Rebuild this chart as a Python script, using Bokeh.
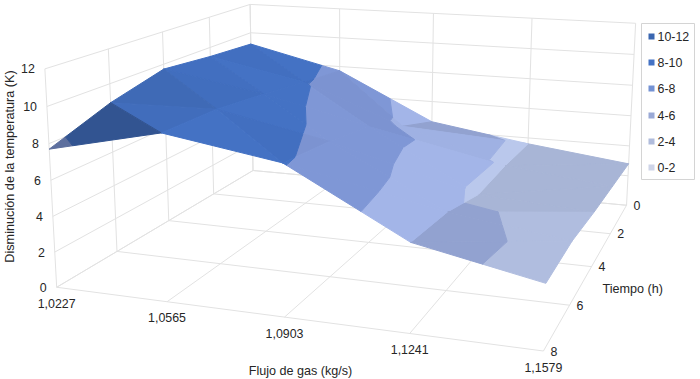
import numpy as np
from bokeh.plotting import figure
from bokeh.embed import file_html
from bokeh.resources import INLINE
from bokeh.models import Range1d
from bokeh.core.properties import value

flow_labels = ["1,0227", "1,0565", "1,0903", "1,1241", "1,1579"]
time_labels = ["0", "2", "4", "6", "8"]
temp_labels = ["0", "2", "4", "6", "8", "10", "12"]
legend_labels = ["10-12", "8-10", "6-8", "4-6", "2-4", "0-2"]

z_t0 = [9.2, 7.7, 4.6, 3.6, 2.8]
z_t2 = [9.4, 8.1, 5.7, 3.7, 3.0]
z_t4 = [9.7, 8.6, 7.1, 3.6, 3.2]
z_t6 = [8.9, 9.0, 7.7, 4.4, 3.5]
z_t8 = [7.7, 9.1, 8.1, 4.7, 3.4]
Z = np.array([z_t0, z_t2, z_t4, z_t6, z_t8])

bands = [(0, 2), (2, 4), (4, 6), (6, 8), (8, 10), (10, 12)]
surface_rgb = {0: (200, 208, 232), 1: (176, 189, 223), 2: (163, 181, 232),
               3: (127, 151, 214), 4: (68, 114, 196), 5: (58, 102, 176)}
legend_colors = ["#3a66b0", "#4472c4", "#7492d4", "#9aa9d6", "#b0bcdc", "#ced4e8"]

# facet shading per grid cell (row, column): two triangles each
shade_t0 = [(1.00, 0.98), (1.00, 0.98), (0.90, 0.98), (0.96, 0.96)]
shade_t2 = [(1.00, 0.98), (0.98, 1.00), (0.98, 1.00), (0.96, 0.96)]
shade_t4 = [(0.97, 0.93), (1.00, 1.00), (1.00, 1.00), (0.90, 0.90)]
shade_t6 = [(0.96, 0.74), (0.98, 1.00), (1.00, 1.00), (0.90, 0.90)]
shades = [shade_t0, shade_t2, shade_t4, shade_t6]

# camera fitted to the chart's box corners: (x index, t index, z) -> screen
cam_world = [(0,4,0),(4,4,0),(4,0,0),(0,0,0),(0,4,12),(0,0,12),(4,0,12),(2,4,0),(0,2,0),(4,2,0)]
cam_screen = [(57,287),(542,351),(626,205),(252,170),(44,68),(250,4),(635,23),(284,317),(168,220),(592,265)]
A, b = [], []
for (X, T, H), (u, v) in zip(cam_world, cam_screen):
    A.append([X, T, H, 1, 0, 0, 0, 0, -u*X, -u*T, -u*H]); b.append(u)
    A.append([0, 0, 0, 0, X, T, H, 1, -v*X, -v*T, -v*H]); b.append(v)
m = np.linalg.lstsq(np.array(A, float), np.array(b, float), rcond=None)[0]
P = np.append(m, 1).reshape(3, 4)

def proj(pt):
    q = P @ np.array([pt[0], pt[1], pt[2], 1.0])
    return q[0]/q[2], q[1]/q[2]

p = figure(width=700, height=379, output_backend="svg", toolbar_location=None,
           x_range=Range1d(0, 700), y_range=Range1d(379, 0), min_border=0)
p.axis.visible = False
p.grid.visible = False
p.outline_line_color = None

GRID = "#e2e2e2"
def seg(a, b_, color=GRID, w=1):
    (x0, y0), (x1, y1) = proj(a), proj(b_)
    p.line([x0, x1], [y0, y1], line_color=color, line_width=w)

for i in range(5):
    seg((i, 0, 0), (i, 4, 0))
    seg((i, 0, 0), (i, 0, 12))
    seg((0, i, 0), (4, i, 0))
    seg((0, i, 0), (0, i, 12))
for k in range(7):
    h = 2*k
    seg((0, 4, h), (0, 0, h))
    seg((0, 0, h), (4, 0, h))

def clip(poly, lo, hi):
    def cut(poly, f):
        out = []
        for i in range(len(poly)):
            a, c = poly[i], poly[(i+1) % len(poly)]
            fa, fc = f(a), f(c)
            if fa >= 0:
                out.append(a)
            if fa * fc < 0:
                s = fa / (fa - fc)
                out.append(tuple(a[j] + s*(c[j]-a[j]) for j in range(3)))
        return out
    r = cut(poly, lambda q: q[2]-lo)
    if r:
        r = cut(r, lambda q: hi-q[2])
    return r

tris = []
for j in range(4):
    for i in range(4):
        a = (i, j, Z[j, i]); c = (i+1, j, Z[j, i+1])
        d = (i, j+1, Z[j+1, i]); e = (i+1, j+1, Z[j+1, i+1])
        if i < 2:
            tris += [((a, c, e), j, i, 0), ((a, e, d), j, i, 1)]
        else:
            tris += [((a, c, d), j, i, 0), ((c, e, d), j, i, 1)]
tris.sort(key=lambda t: (sum(q[1] for q in t[0]), sum(q[0] for q in t[0])))

xs, ys, cols = [], [], []
for t, j, i, k in tris:
    shade = shades[j][i][k]
    for bi, (lo, hi) in enumerate(bands):
        poly = clip(list(t), lo, hi)
        if len(poly) >= 3:
            pts = [proj(q) for q in poly]
            f = shade
            if bi == 1 and i == 2:
                f = 1.06
            if bi == 1 and i == 3:
                f = 0.96 if (j < 2 or (j == 2 and k == 0)) else 1.0
            rgb = [min(255, int(ch*f)) for ch in surface_rgb[bi]]
            col = "#%02x%02x%02x" % tuple(rgb)
            xs.append([q[0] for q in pts]); ys.append([q[1] for q in pts]); cols.append(col)
p.patches(xs, ys, fill_color=cols, line_color=cols, line_width=1, line_join="round")

TXT = "#262626"
def label(x, y, s, align="center", angle=0, size="12.4px", color=TXT):
    p.text([x], [y], text=[s], text_align=align, text_baseline="middle", angle=angle,
           text_font=value("Liberation Sans"), text_font_size=size, text_color=color)

for k, s in enumerate(temp_labels):
    x0, y0 = proj((0, 4, 2*k))
    label(x0-10, y0, s, align="right")
for i, s in enumerate(flow_labels):
    x0, y0 = proj((i, 4, 0))
    label(x0, y0+16, s)
for j, s in enumerate(time_labels):
    x0, y0 = proj((4, j, 0))
    label(x0+7, y0, s, align="left")

label(9, 166, "Disminución de la temperatura (K)", angle=np.pi/2, size="12.7px")
label(300, 370, "Flujo de gas (kg/s)", size="12.6px")
label(602, 288, "Tiempo (h)", align="left", size="12.6px")

# legend
p.quad(left=[641], right=[694], top=[23], bottom=[179], fill_color="white", line_color="#d4d4d4")
ly = [36, 62, 88, 115, 141, 167]
for s, c, y in zip(legend_labels, legend_colors, ly):
    p.quad(left=[648], right=[654], top=[y-3], bottom=[y+3], fill_color=c, line_color=None)
    label(657, y, s, align="left")

open("out.html", "w").write(file_html(p, INLINE))
